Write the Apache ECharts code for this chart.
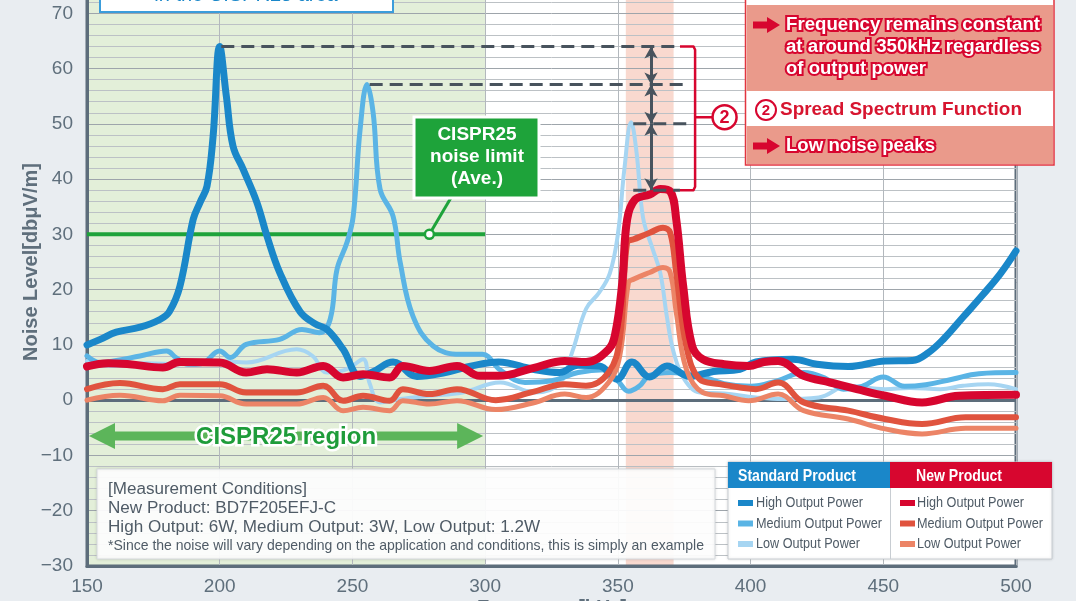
<!DOCTYPE html>
<html><head><meta charset="utf-8">
<script src="https://cdn.jsdelivr.net/npm/echarts@6/dist/echarts.min.js"></script>
<style>html,body{margin:0;padding:0;background:#e9edf1;overflow:hidden}#c{width:1076px;height:601px}</style>
</head><body><div id="c"></div>
<script>
// ---------- data ----------
const stdHighF = [150,155,161,170,177.5,181,185,190,192.6,195.2,197.5,200,202.5,205,208.8,214,217.8,222.7,230.3,236,240.4,246.5,252.9,258,265.3,274.3,285,295,305,318,328,335,343,349.7,355.3,362,368.5,377,386,396,402,416,425,436.8,450.7,461,467,473,480,487,494,500];
const stdHighV = [10,11,12.3,13.2,14.6,16,20.6,32.7,35.8,38.7,47.7,64,55,46,41.8,35.8,29.7,23,16,13.8,12.8,9.2,4.3,5.2,6.9,4.3,5.0,6.2,6.9,5.6,5.0,6.3,6.2,3.8,6.9,4.2,6.2,4.3,5.2,5.6,6.9,7.4,6.5,6.1,7.1,7.2,8.6,11.2,15.0,18.8,22.8,27];
const stdMedF = [150,155,160,170,180,183.5,188,193,200,204,210,222.6,231,237.5,241.6,244.2,248,250.3,252.9,255.5,257.8,260.4,265.3,268,272.8,280.4,290.5,299,305.6,315,325,335,345,350,354,358,362,370,380,390,400,410,420,428,435,442,450,458,466,476,486,500];
const stdMedV = [8,6.8,7.1,8,8.9,7.7,6.5,6.6,8.9,7.7,10.1,11,12.8,12.2,14.6,23.7,28.6,33.3,49,57.1,52,38.2,33.3,24.9,15.2,9.8,8.3,8.3,5.5,3.2,3.5,5,5.5,3.5,1.6,2.5,4.5,5,4.5,3,2.5,3.5,5,4,2,2.5,4.2,2.5,2.8,3.8,4.8,5];
const stdLowF = [150,160,172.5,185,200,210,229,235,240.4,248,254,256.5,260.4,268,279,291.6,305.6,318.7,328,333,338,343,347,350,352.5,355,357,359.5,363,366,368.5,371,375,381,390,402,412,425.7,436.8,450.7,460,471.5,480,489.6,500];
const stdLowV = [7.1,6.2,6.7,6.5,7.1,6.8,9.2,8,5,5.6,7.4,3,-0.4,0.2,0.8,1.4,3.2,1.4,3,9,16.5,19.5,23,30,42,50.3,45,33,27.5,23,15,8.7,3.8,1.4,1.2,0.5,0.2,0.5,2.6,2,2.2,2,2.6,2.9,2];
const newHighF = [150,158,166,178.6,185,200,210,217.8,229,239,246.5,254,264,269,279,289.4,298,305,318,330,338,346.5,349,351.6,353.5,356.5,362,366,369.7,372,374.6,378,382,390,399.3,405,410.4,420,430,440,450.7,464.6,478.5,500];
const newHighV = [6.1,6.7,6.5,5.9,6.9,6.8,5,5.6,5,6.2,4.1,4.7,4.1,6.2,5.3,6.2,4.4,4.4,5.8,7.1,6.9,9.2,12,21,32.7,36.3,37.2,38.2,37.8,32.7,20.7,9.8,7.4,6.5,6.2,6.9,7.1,4.4,3.2,2,0.8,-0.4,0.8,1.0];
const newMedF = [150,162.4,178.6,185,200,210,229,239,246.5,254,264,269,279,289.4,304,318,330,338,346.5,350.7,353.5,356,362,367,369.7,372,375.8,380.8,388.3,396,402,410.4,420,436.8,450.7,464.6,481,500];
const newMedV = [2,3.1,2,2.9,2.9,1.4,1.4,2.6,-0.1,0.8,-0.1,2,1.1,2,0,1.5,2.9,2.6,5,11,28.6,29.1,30.3,31.2,30.3,23,9.8,3.8,2.9,2.3,2,3.2,-0.4,-1.9,-3.4,-4.3,-3.1,-3.1];
const newLowF = [150,162.4,178.6,185,200,210,229,239,246.5,254,264,269,279,289.4,304,318,330,338,346.5,350.7,354,356,362,367,369.7,372,375.8,382,390,399.3,410.4,420,436.8,450.7,464.6,481,500];
const newLowV = [0,0.9,-0.1,0.9,0.8,-0.7,-0.7,0.5,-1.9,-1.3,-1.9,-0.1,-0.7,-0.1,-1.7,-0.5,1.1,0.5,3.2,8,21.3,21.9,23.1,24,23.1,15.9,5.6,1.4,0.8,-0.1,1.1,-1.9,-3.4,-5.2,-6.1,-5.1,-5.1];

const limitF = [150, 300];
const limitLevel = 30;
const regionF = [150, 300];
const spreadBandF = [353, 371];
const peakLevels = [64, 57.1, 50, 38];
const dashStartF = [200.6, 256.5, 355.8, 355.8];
const dashEndF = [373.4, 376, 376, 373.4];
const arrowF = 362.5;
const bracketF = [373.4, 379.1];
const calloutF = [385.6, 390.2];

// ---------- helpers ----------
const FONT = '"Liberation Sans", Arial, sans-serif';
const AX = '#5d6d7b', LBL = '#5f6f7c', TXT = '#4f5b66';
const C = {sh:'#1a87c9', sm:'#5ab4e5', sl:'#a6d5f2', nh:'#d7062f', nm:'#e0533e', nl:'#ec8466', grn:'#1ea33a'};
const pairs = (F, V) => F.map((f, i) => [f, V[i]]);
function curve(name, F, V, color, width, z) {
  return {name, type:'line', data:pairs(F,V), smooth:0.4, symbol:'none', z,
    silent:true, lineStyle:{color, width, cap:'round', join:'round'}};
}
function seg(data, color, width, type, z) {
  return {type:'line', data, symbol:'none', z, silent:true, lineStyle:{color, width, type, cap:'butt', join:'round'}};
}
const mctx = document.createElement('canvas').getContext('2d');
function fit(text, font, target) { mctx.font = font; return target / mctx.measureText(text).width; }
function txt(text, x, y, font, fill, opts) {
  opts = opts || {};
  const s = opts.w ? fit(text, font, opts.w) : 1;
  const st = {text, font, fill, textAlign: opts.align || 'left', align: opts.align || 'left',
    textVerticalAlign:'middle', verticalAlign:'middle'};
  if (opts.stroke) { st.stroke = opts.stroke; st.lineWidth = opts.lw || 3; }
  return {type:'text', x, y, scaleX:s, z:100, silent:true, style:st};
}

const chart = echarts.init(document.getElementById('c'));
const option = {
  animation:false,
  backgroundColor:'#e9edf1',
  grid:{left:87, right:60, top:-42, bottom:35, outerBoundsMode:'none', containLabel:false,
    show:true, borderColor:AX, borderWidth:3, backgroundColor:'transparent'},
  xAxis:{type:'value', min:150, max:500, interval:50,
    axisLine:{onZero:false, lineStyle:{color:AX, width:3}}, axisTick:{show:false},
    axisLabel:{fontFamily:FONT, fontSize:19, color:LBL, margin:11},
    splitLine:{show:true, lineStyle:{color:'#b3b8bd', width:1}}},
  yAxis:{type:'value', min:-30, max:80, interval:10,
    name:'Noise Level[dbμV/m]', nameLocation:'middle', nameGap:46, nameMoveOverlap:false,
    nameTextStyle:{fontFamily:FONT, fontSize:20, fontWeight:'bold', color:LBL},
    axisLine:{lineStyle:{color:AX, width:3}}, axisTick:{show:false},
    axisLabel:{fontFamily:FONT, fontSize:19, color:LBL, margin:14, formatter:v => v < 0 ? '\u2212' + Math.abs(v) : String(v)},
    splitLine:{show:true, lineStyle:{color:'#9ea5ab', width:1}},
    minorTick:{show:false, splitNumber:5},
    minorSplitLine:{show:true, lineStyle:{color:'#bcc1c5', width:1}}},
  series:[
    {type:'line', data:[], z:-1, silent:true,
      markArea:{silent:true, z:-1, data:[
        [{xAxis:150, itemStyle:{color:'#ffffff'}}, {xAxis:500}],
        [{xAxis:regionF[0], itemStyle:{color:'#e3efd9'}}, {xAxis:regionF[1]}],
        [{xAxis:spreadBandF[0], itemStyle:{color:'#f9d9cf'}}, {xAxis:spreadBandF[1]}]]}},
    {type:'line', data:[], z:2, silent:true,
      markLine:{silent:true, z:2, symbol:'none', label:{show:false}, lineStyle:{color:AX, width:3, type:'solid'}, data:[{yAxis:0}]}},
    seg(limitF.map(f => [f, limitLevel]), C.grn, 4, 'solid', 3),
    curve('Standard Low', stdLowF, stdLowV, C.sl, 4, 4),
    curve('Standard Medium', stdMedF, stdMedV, C.sm, 5, 4),
    curve('Standard High', stdHighF, stdHighV, C.sh, 7, 4),
    curve('New Low', newLowF, newLowV, C.nl, 5, 5),
    curve('New Medium', newMedF, newMedV, C.nm, 6, 5),
    curve('New High', newHighF, newHighV, C.nh, 8, 5),
    ...peakLevels.map((lv, i) => seg([[dashStartF[i], lv], [dashEndF[i], lv]], '#48535d', 3, [13, 7], 6)),
    seg([[bracketF[0], peakLevels[0]], [bracketF[1] - 0.6, peakLevels[0]], [bracketF[1], peakLevels[0] - 0.6], [bracketF[1], peakLevels[3] + 0.6], [bracketF[1] - 0.6, peakLevels[3]], [bracketF[0], peakLevels[3]]], C.nh, 2.5, 'solid', 6),
    seg([[bracketF[1], 51.2], [calloutF[0], 51.2]], C.nh, 2.5, 'solid', 6),
    {type:'line', data:[], z:7, silent:true,
      markLine:{silent:true, z:7, symbol:['arrow','arrow'], symbolSize:[10,12], label:{show:false},
        lineStyle:{color:'#48535d', width:3, type:'solid'},
        data:[0,1,2].map(i => [{coord:[arrowF, peakLevels[i]]}, {coord:[arrowF, peakLevels[i+1]]}])}}
  ]
};
chart.setOption(option);

const P = (f, v) => chart.convertToPixel({gridIndex:0}, [f, v]);
const g = [];
// x axis title (cut off at the bottom edge)
g.push(txt('Frequency[kHz]', 552, 608, 'bold 20px ' + FONT, LBL, {align:'center'}));
// top-left info box (cut off)
g.push({type:'rect', z:90, shape:{x:100, y:-40, width:293, height:52}, style:{fill:'#fff', stroke:'#3b9ddb', lineWidth:2}});
g.push(txt('in the CISPR25 area', 246, -5, '20px ' + FONT, C.sh, {align:'center'}));

// right annotation box
g.push({type:'rect', z:90, shape:{x:745.5, y:-40, width:308.5, height:205}, style:{fill:'#fff', stroke:'#e2353f', lineWidth:1.5}});
g.push({type:'rect', z:91, shape:{x:746.5, y:5, width:306.5, height:86}, style:{fill:'#ea9a8b'}});
g.push({type:'rect', z:91, shape:{x:746.5, y:126, width:306.5, height:38}, style:{fill:'#ea9a8b'}});
function arrowShape(x, y) {
  return {type:'polygon', z:95, shape:{points:[[x,y-3.5],[x+14,y-3.5],[x+14,y-8],[x+27,y],[x+14,y+8],[x+14,y+3.5],[x,y+3.5]]}, style:{fill:C.nh}};
}
g.push(arrowShape(753, 25));
g.push(arrowShape(753, 146));
const BF = 'bold 18px ' + FONT;
g.push(txt('Frequency remains constant', 786, 25, BF, '#fff', {w:254, stroke:C.nh, lw:4}));
g.push(txt('at around 350kHz regardless', 786, 47, BF, '#fff', {w:254, stroke:C.nh, lw:4}));
g.push(txt('of output power', 786, 69, BF, '#fff', {w:140, stroke:C.nh, lw:4}));
g.push(txt('Low noise peaks', 786, 146, BF, '#fff', {w:149, stroke:C.nh, lw:4}));
g.push({type:'circle', z:95, shape:{cx:766, cy:110, r:10}, style:{fill:'#fff', stroke:C.nh, lineWidth:2}});
g.push(txt('2', 766, 111, 'bold 15px ' + FONT, C.nh, {align:'center'}));
g.push(txt('Spread Spectrum Function', 780, 110, BF, '#d7152f', {w:242}));

// callout circle by bracket
const cp = P(calloutF[1], 51.2);
g.push({type:'circle', z:95, shape:{cx:cp[0], cy:cp[1], r:12}, style:{fill:'#fff', stroke:C.nh, lineWidth:2.5}});
g.push(txt('2', cp[0], cp[1] + 1, 'bold 18px ' + FONT, C.nh, {align:'center'}));

// CISPR25 limit label
const dot = P(279, limitLevel);
g.push({type:'line', z:92, shape:{x1:452, y1:196, x2:dot[0], y2:dot[1]}, style:{stroke:C.grn, lineWidth:3}});
g.push({type:'circle', z:93, shape:{cx:dot[0], cy:dot[1], r:4.5}, style:{fill:'#fff', stroke:C.grn, lineWidth:2.5}});
g.push({type:'rect', z:92, shape:{x:414, y:117, width:125, height:81}, style:{fill:C.grn, stroke:'#fff', lineWidth:3}});
g.push(txt('CISPR25', 477, 135, 'bold 19px ' + FONT, '#fff', {align:'center'}));
g.push(txt('noise limit', 477, 157, 'bold 19px ' + FONT, '#fff', {align:'center'}));
g.push(txt('(Ave.)', 477, 179, 'bold 19px ' + FONT, '#fff', {align:'center'}));

// CISPR25 region arrow
const ra = P(regionF[0], -6.5), rb = P(regionF[1], -6.5);
{
  const x1 = ra[0] + 2, x2 = rb[0] - 2, cy = ra[1];
  g.push({type:'polygon', z:80, shape:{points:[[x1,cy],[x1+26,cy-13],[x1+26,cy-4.5],[x2-26,cy-4.5],[x2-26,cy-13],[x2,cy],[x2-26,cy+13],[x2-26,cy+4.5],[x1+26,cy+4.5],[x1+26,cy+13]]}, style:{fill:'#5cb55a'}});
  g.push(txt('CISPR25 region', (x1 + x2) / 2, cy + 1, 'bold 24px ' + FONT, '#1e9c3a', {align:'center', stroke:'#fff', lw:5}));
}

// measurement conditions box
g.push({type:'rect', z:85, shape:{x:97, y:469, width:618, height:90}, style:{fill:'rgba(255,255,255,0.93)', stroke:'#d5d9dd', lineWidth:1, shadowBlur:3, shadowColor:'rgba(0,0,0,0.12)'}});
const MF = '16px ' + FONT;
g.push(txt('[Measurement Conditions]', 108, 490, MF, TXT, {w:199}));
g.push(txt('New Product: BD7F205EFJ-C', 108, 509, MF, TXT, {w:228}));
g.push(txt('High Output: 6W, Medium Output: 3W, Low Output: 1.2W', 108, 528, MF, TXT, {w:432}));
g.push(txt('*Since the noise will vary depending on the application and conditions, this is simply an example', 108, 546, '15px ' + FONT, TXT, {w:596}));

// legend table
g.push({type:'rect', z:85, shape:{x:728, y:462, width:324, height:97}, style:{fill:'#fff', stroke:'#c8cdd2', lineWidth:1, shadowBlur:3, shadowColor:'rgba(0,0,0,0.12)'}});
g.push({type:'rect', z:86, shape:{x:728, y:462, width:162, height:26}, style:{fill:C.sh}});
g.push({type:'rect', z:86, shape:{x:890, y:462, width:162, height:26}, style:{fill:C.nh}});
g.push({type:'line', z:86, shape:{x1:890.5, y1:488, x2:890.5, y2:559}, style:{stroke:'#c8cdd2', lineWidth:1}});
const HF = 'bold 17px ' + FONT;
g.push(txt('Standard Product', 738, 476, HF, '#fff', {w:118}));
g.push(txt('New Product', 916, 476, HF, '#fff', {w:86}));
const LF = '15px ' + FONT;
const legRows = [['High Output Power', C.sh, C.nh, 107], ['Medium Output Power', C.sm, C.nm, 126], ['Low Output Power', C.sl, C.nl, 104]];
legRows.forEach((r, i) => {
  const y = 503 + i * 20.5;
  g.push({type:'rect', z:87, shape:{x:738, y:y-3, width:15, height:6}, style:{fill:r[1]}});
  g.push({type:'rect', z:87, shape:{x:900, y:y-3, width:15, height:6}, style:{fill:r[2]}});
  g.push(txt(r[0], 756, y, LF, TXT, {w:r[3]}));
  g.push(txt(r[0], 917, y, LF, TXT, {w:r[3]}));
});

chart.setOption({graphic:{elements:g}});
</script>
</body></html>
